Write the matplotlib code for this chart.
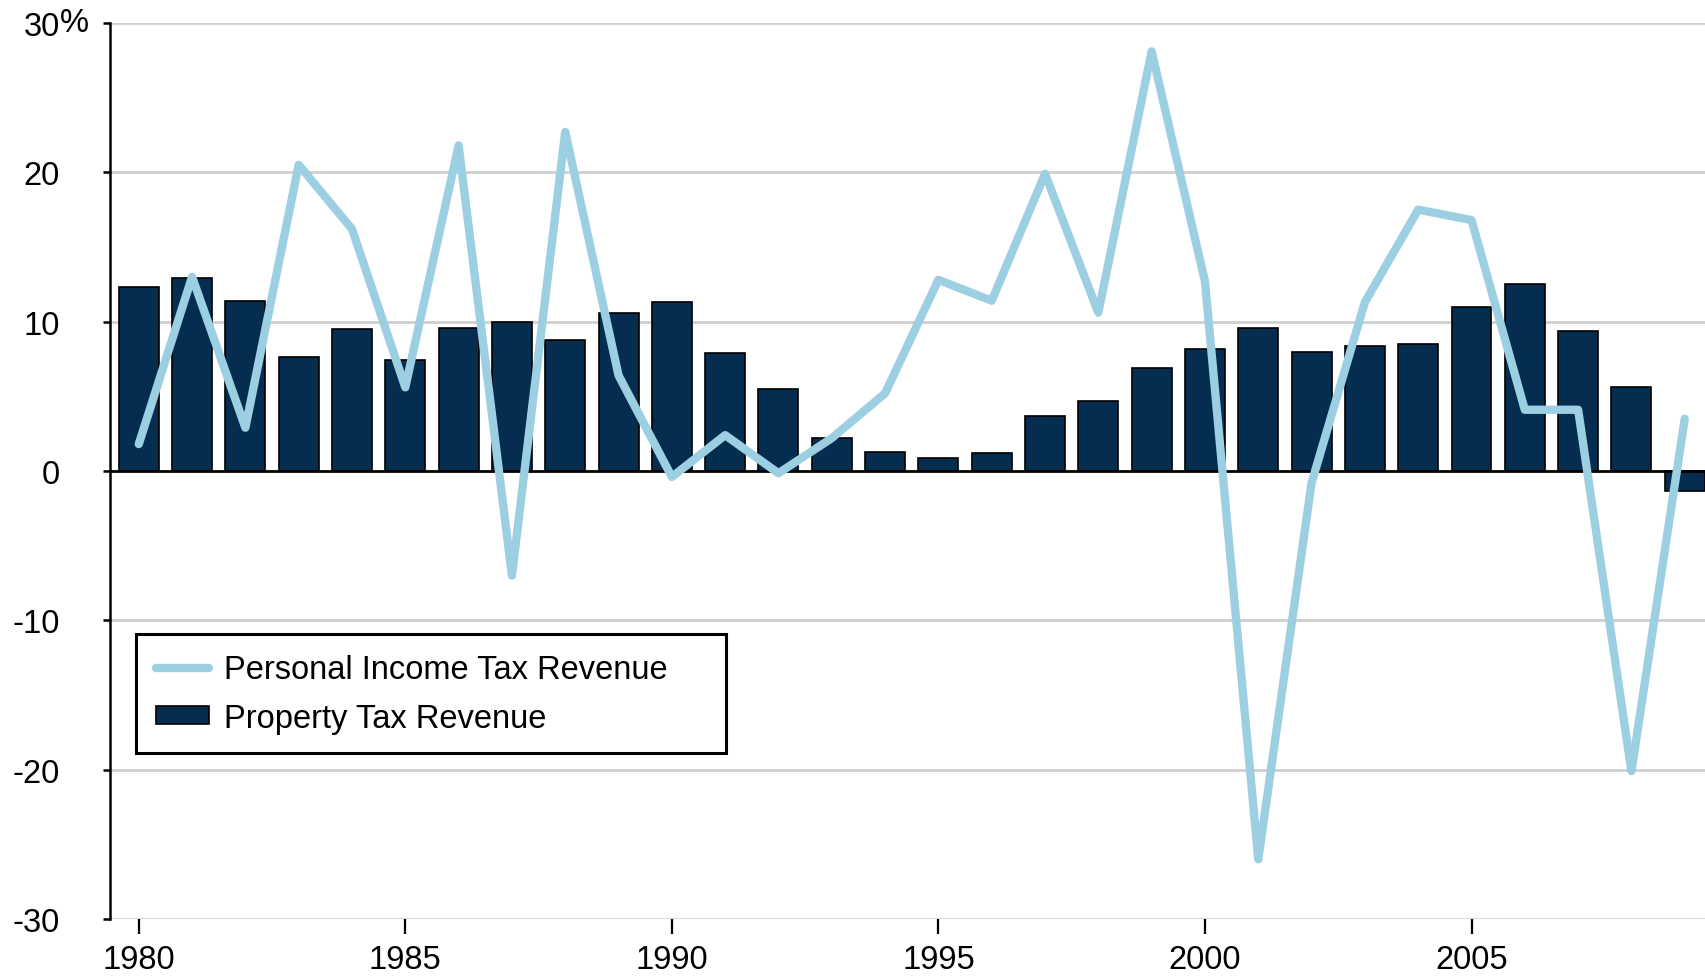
import matplotlib.pyplot as plt
import numpy as np

plt.rcParams['font.family'] = ['Liberation Sans', 'DejaVu Sans']

# annual growth, percent
years = np.arange(1980, 2010)
income_tax = [1.8, 13.0, 2.9, 20.5, 16.2, 5.6, 21.8, -7.0, 22.7, 6.4,
              -0.4, 2.4, -0.15, 2.2, 5.2, 12.8, 11.4, 19.9, 10.6, 28.1,
              12.7, -26.0, -0.8, 11.3, 17.5, 16.8, 4.1, 4.1, -20.1, 3.5]
property_tax = [12.3, 12.9, 11.4, 7.6, 9.5, 7.4, 9.6, 10.0, 8.8, 10.6,
                11.3, 7.9, 5.5, 2.2, 1.3, 0.85, 1.2, 3.7, 4.7, 6.9,
                8.2, 9.6, 8.0, 8.4, 8.5, 11.0, 12.5, 9.4, 5.6, -1.35]

y_ticks = [30, 20, 10, 0, -10, -20, -30]
y_labels = ['30', '20', '10', '0', '-10', '-20', '-30']
x_ticks = [1980, 1985, 1990, 1995, 2000, 2005]

navy = '#042d4f'
light_blue = '#9ccfe2'

fig = plt.figure(figsize=(17.05, 9.78), dpi=100)
ax = fig.add_axes([0.0645, 0.0593, 0.9355, 0.9162])

for y in y_ticks:
    if y != 0:
        ax.axhline(y, color='#cfcfcf', lw=2.0, zorder=0)

bars = ax.bar(years, property_tax, width=0.75, color=navy, edgecolor='black',
              linewidth=1.2, zorder=2)
ax.axhline(0, color='black', lw=2.0, zorder=3)
line, = ax.plot(years, income_tax, color=light_blue, lw=6.0, zorder=4,
                solid_capstyle='round')

ax.set_xlim(1979.46, 2009.38)
ax.set_ylim(-30, 30)

for s in ['top', 'right', 'bottom']:
    ax.spines[s].set_visible(False)
ax.spines['left'].set_linewidth(1.8)
ax.spines['left'].set_bounds(-30, 30)

ax.set_yticks(y_ticks)
ax.set_yticklabels(y_labels)
ax.set_xticks(x_ticks)
ax.tick_params(axis='y', length=5, width=1.8, pad=31, labelsize=23.5)
ax.tick_params(axis='x', length=11, width=1.6, pad=7, labelsize=23.5)
ax.annotate('%', xy=(0, 30), xycoords=('axes fraction', 'data'),
            xytext=(-50, 0), textcoords='offset pixels',
            ha='left', va='center', fontsize=23.5)

leg = ax.legend([line, bars], ['Personal Income Tax Revenue', 'Property Tax Revenue'],
                loc='lower left', bbox_to_anchor=(0.0163, 0.185, 0.37, 0.13),
                mode='expand', borderaxespad=0, fontsize=23.5, fancybox=False,
                edgecolor='black', framealpha=1, handlelength=1.65,
                handleheight=0.45, handletextpad=0.45, labelspacing=0.55,
                borderpad=0.6)
leg.get_frame().set_linewidth(2.2)

fig.savefig('out.png', dpi=100)
